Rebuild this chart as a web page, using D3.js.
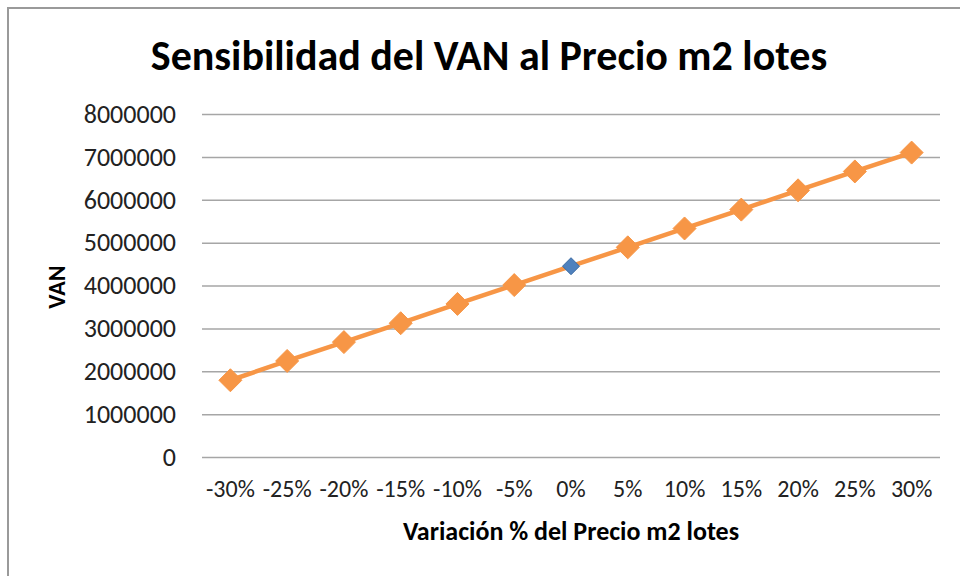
<!DOCTYPE html>
<html>
<head>
<meta charset="utf-8">
<script src="https://cdn.jsdelivr.net/npm/d3@7"></script>
<style>
  body { margin: 0; background: #fff; }
  svg text { font-family: Carlito, Calibri, Lato, "Open Sans", sans-serif; fill: #000; }
</style>
</head>
<body>
<div id="container"></div>
<script>
// data
const categories = ['-30%', '-25%', '-20%', '-15%', '-10%', '-5%', '0%', '5%', '10%', '15%', '20%', '25%', '30%'];
const vanValues = [1790000, 2240000, 2680000, 3120000, 3570000, 4010000, 4450000, 4890000, 5330000, 5770000, 6220000, 6660000, 7100000];
const yTicks = [0, 1000000, 2000000, 3000000, 4000000, 5000000, 6000000, 7000000, 8000000];
const baseCategory = '0%';

const W = 960, H = 576;
const plot = { left: 202, right: 940, top: 114, bottom: 457 };

const data = categories.map((c, i) => ({ cat: c, val: vanValues[i] }));

const svg = d3.select('#container')
    .append('svg')
    .attr('width', W)
    .attr('height', H);

// chart frame (only top and left edges visible in the picture)
svg.append('path')
    .attr('d', `M8,${H} L8,8 L${W},8`)
    .attr('fill', 'none')
    .attr('stroke', '#9a9a9a')
    .attr('stroke-width', 2);

const xScale = d3.scaleBand()
    .domain(categories)
    .range([plot.left, plot.right]);

const yScale = d3.scaleLinear()
    .domain([0, 8000000])
    .range([plot.bottom, plot.top]);

// grid lines
svg.append('g')
    .attr('class', 'grid')
    .attr('transform', `translate(${plot.left},0)`)
    .call(d3.axisLeft(yScale)
        .tickValues(yTicks)
        .tickSize(-(plot.right - plot.left))
        .tickFormat(''))
    .call(g => g.select('.domain').remove())
    .call(g => g.selectAll('line').attr('stroke', '#a6a6a6').attr('stroke-width', 1.5));

// y axis labels
svg.append('g')
    .attr('transform', `translate(${plot.left},0)`)
    .call(d3.axisLeft(yScale)
        .tickValues(yTicks)
        .tickSize(0)
        .tickPadding(26)
        .tickFormat(d3.format('d')))
    .call(g => g.select('.domain').remove())
    .call(g => g.selectAll('text').attr('font-size', 26).style('fill', '#222'));

// x axis labels
svg.append('g')
    .attr('transform', `translate(0,${plot.bottom})`)
    .call(d3.axisBottom(xScale).tickSize(0).tickPadding(24))
    .call(g => g.select('.domain').remove())
    .call(g => g.selectAll('text').attr('font-size', 24).attr('dy', '0.65em').style('fill', '#222'));

const cx = d => xScale(d.cat) + xScale.bandwidth() / 2;

// line
svg.append('path')
    .datum(data)
    .attr('fill', 'none')
    .attr('stroke', '#f79646')
    .attr('stroke-width', 4.5)
    .attr('stroke-linejoin', 'round')
    .attr('d', d3.line().x(cx).y(d => yScale(d.val)));

// diamond markers
const diamond = r => `M0,${-r} L${r},0 L0,${r} L${-r},0 Z`;
svg.append('g')
    .selectAll('path')
    .data(data)
    .enter()
    .append('path')
    .attr('transform', d => `translate(${cx(d)},${yScale(d.val)})`)
    .attr('d', d => diamond(d.cat === baseCategory ? 8.5 : 11.5))
    .attr('fill', d => d.cat === baseCategory ? '#4f81bd' : '#f79646')
    .attr('stroke', d => d.cat === baseCategory ? '#3a6aa3' : '#f79646')
    .attr('stroke-width', 1);

// title
svg.append('text')
    .attr('x', 489)
    .attr('y', 70)
    .attr('text-anchor', 'middle')
    .attr('font-size', 42)
    .attr('font-weight', 'bold')
    .text('Sensibilidad del VAN al Precio m2 lotes');

// axis titles
svg.append('text')
    .attr('transform', 'translate(65,287) rotate(-90)')
    .attr('text-anchor', 'middle')
    .attr('font-size', 24)
    .attr('font-weight', 'bold')
    .text('VAN');

svg.append('text')
    .attr('x', 571)
    .attr('y', 540)
    .attr('text-anchor', 'middle')
    .attr('font-size', 26)
    .attr('font-weight', 'bold')
    .text('Variación % del Precio m2 lotes');
</script>
</body>
</html>
